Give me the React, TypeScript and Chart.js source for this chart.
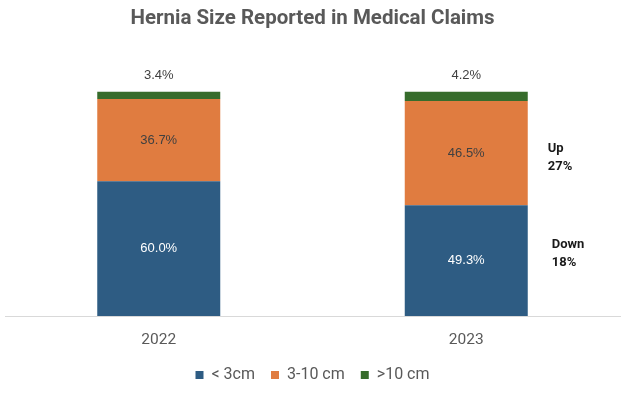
import React, { useEffect, useRef } from "react";
import { Chart, registerables } from "chart.js";

Chart.register(...registerables);

const categories = ["2022", "2023"];
const smallValues = [60.0, 49.3];
const mediumValues = [36.7, 46.5];
const largeValues = [3.4, 4.2];
const seriesNames = ["< 3cm", "3-10 cm", ">10 cm"];
const changeNotes = [
  { series: 1, lines: ["Up", "27%"] },
  { series: 0, lines: ["Down", "18%"] },
];
const noteShift = [5, -7];

const labelPlugin = {
  id: "segLabels",
  afterDatasetsDraw(chart: any) {
    const ctx = chart.ctx;
    ctx.save();
    ctx.textAlign = "center";
    ctx.textBaseline = "middle";
    chart.data.datasets.forEach((ds: any, di: number) => {
      const meta = chart.getDatasetMeta(di);
      meta.data.forEach((bar: any, i: number) => {
        const v = ds.data[i];
        const txt = v.toFixed(1) + "%";
        ctx.font = "13px 'Liberation Sans', Arial, sans-serif";
        if (di === 2) {
          ctx.fillStyle = "#404040";
          ctx.fillText(txt, bar.x, bar.y - 16);
        } else {
          ctx.fillStyle = di === 0 ? "#ffffff" : "#404040";
          ctx.fillText(txt, bar.x, (bar.y + bar.base) / 2);
        }
      });
    });
    const lastIdx = categories.length - 1;
    changeNotes.forEach((n, k) => {
      const bar: any = chart.getDatasetMeta(n.series).data[lastIdx];
      const cy = (bar.y + bar.base) / 2 + noteShift[k];
      const x = bar.x + bar.width / 2 + 20 + k * 4;
      ctx.textAlign = "left";
      ctx.fillStyle = "#1a1a1a";
      ctx.font = "bold 13px Roboto, sans-serif";
      ctx.fillText(n.lines[0], x, cy - 9);
      ctx.fillText(n.lines[1], x, cy + 9);
    });
    ctx.restore();
  },
};

export default function App() {
  const ref = useRef<HTMLCanvasElement>(null);
  useEffect(() => {
    const chart = new Chart(ref.current!, {
      type: "bar",
      data: {
        labels: categories,
        datasets: [
          { label: seriesNames[0], data: smallValues, backgroundColor: "#2e5c83", barPercentage: 0.8, categoryPercentage: 0.5 },
          { label: seriesNames[1], data: mediumValues, backgroundColor: "#e07c40", barPercentage: 0.8, categoryPercentage: 0.5 },
          { label: seriesNames[2], data: largeValues, backgroundColor: "#376c2c", barPercentage: 0.8, categoryPercentage: 0.5 },
        ],
      },
      options: {
        responsive: false,
        animation: false,
        layout: { padding: { left: 5, right: 4, top: 0, bottom: 0 } },
        scales: {
          x: {
            stacked: true,
            grid: { display: false, drawTicks: false },
            border: { display: true, color: "#d9d9d9", width: 1 },
            ticks: { color: "#595959", font: { family: "Roboto", size: 15.5 }, padding: 15 },
            afterFit: (scale: any) => {
              scale.height = 35;
            },
          },
          y: {
            stacked: true,
            display: false,
            min: 0,
            max: 100,
          },
        },
        plugins: {
          title: {
            display: true,
            text: "Hernia Size Reported in Medical Claims",
            color: "#595959",
            font: { family: "Roboto", size: 20.5, weight: "bold" },
            padding: { top: 7, bottom: 60 },
          },
          legend: {
            position: "bottom",
            maxHeight: 43,
            labels: {
              color: "#595959",
              font: { family: "Roboto", size: 16 },
              boxWidth: 8,
              boxHeight: 8,
              padding: 16,
            },
          },
          tooltip: { enabled: false },
        },
      },
      plugins: [labelPlugin],
    });
    return () => chart.destroy();
  }, []);
  return (
    <div style={{ position: "absolute", left: 0, top: 0, width: 624, height: 393, background: "#fff" }}>
      <canvas ref={ref} width={624} height={393} />
    </div>
  );
}
